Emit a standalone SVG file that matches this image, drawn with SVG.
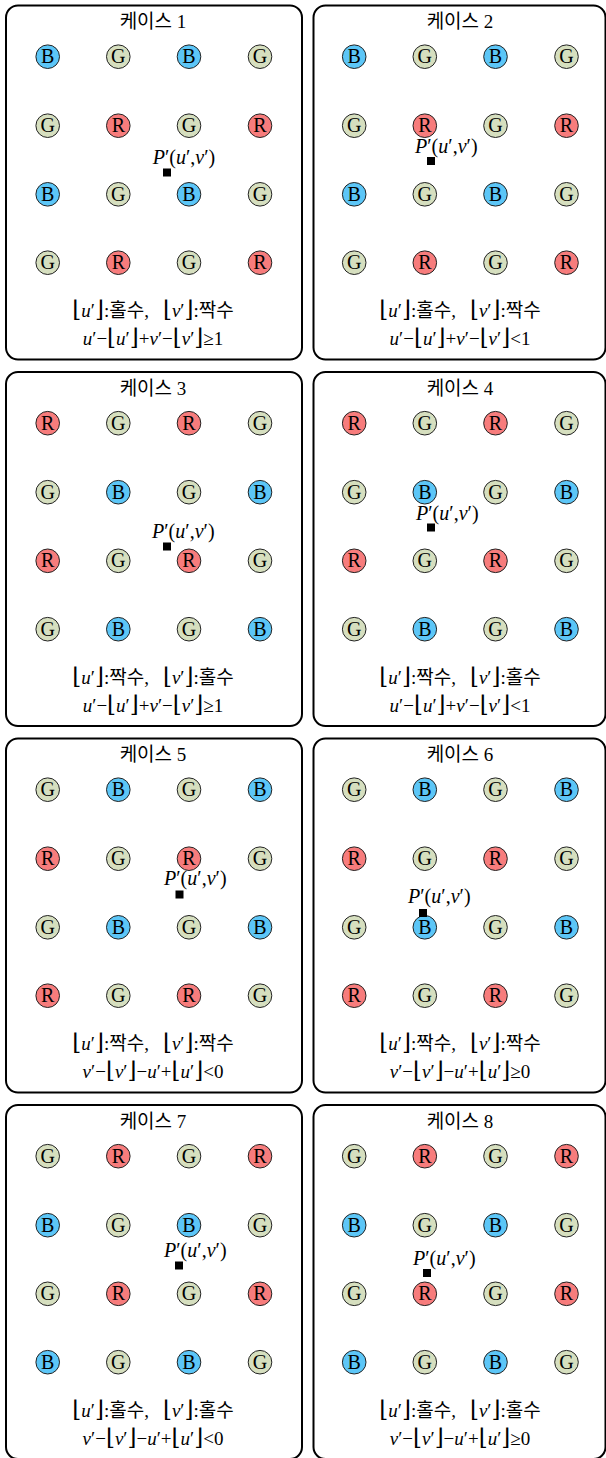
<svg xmlns="http://www.w3.org/2000/svg" xmlns:xlink="http://www.w3.org/1999/xlink" width="606" height="1458" viewBox="0 0 606 1458">
<style>
.box{fill:#fff;stroke:#000;stroke-width:2}
.b{fill:#5cc6f7;stroke:#222;stroke-width:1}
.g{fill:#d6dfbf;stroke:#222;stroke-width:1}
.r{fill:#f77c7c;stroke:#222;stroke-width:1}
.lt{font-family:"Liberation Serif","DejaVu Serif",serif;font-size:20px;text-anchor:middle;fill:#000}
.tt{font-family:"Liberation Serif","Noto Sans CJK KR",serif;font-size:19px;text-anchor:middle;fill:#000}
.t{font-family:"Liberation Serif","Noto Sans CJK KR",serif;font-size:19px;text-anchor:middle;fill:#000}
.k{font-weight:300}
.p{font-family:"Liberation Serif","DejaVu Serif",serif;font-size:20px;fill:#000}
.i{font-style:italic}
.br{font-family:"DejaVu Serif",serif;font-size:23px;font-weight:normal}
.sq{fill:#000}
</style>
<defs>
<g id="nB"><circle r="11.8" class="b"/><text class="lt" y="6.5">B</text></g>
<g id="nG"><circle r="11.8" class="g"/><text class="lt" y="6.5">G</text></g>
<g id="nR"><circle r="11.8" class="r"/><text class="lt" y="6.5">R</text></g>
<g id="rowBG"><use xlink:href="#nB" x="47.7"/><use xlink:href="#nG" x="118.3"/><use xlink:href="#nB" x="189"/><use xlink:href="#nG" x="260"/></g>
<g id="rowGR"><use xlink:href="#nG" x="47.7"/><use xlink:href="#nR" x="118.3"/><use xlink:href="#nG" x="189"/><use xlink:href="#nR" x="260"/></g>
<g id="rowRG"><use xlink:href="#nR" x="47.7"/><use xlink:href="#nG" x="118.3"/><use xlink:href="#nR" x="189"/><use xlink:href="#nG" x="260"/></g>
<g id="rowGB"><use xlink:href="#nG" x="47.7"/><use xlink:href="#nB" x="118.3"/><use xlink:href="#nG" x="189"/><use xlink:href="#nB" x="260"/></g>
</defs>

<g id="case1">
<rect class="box" x="6" y="5.5" width="296" height="354" rx="12"/>
<text class="tt" x="153" y="28">케이스 1</text>
<use xlink:href="#rowBG" y="56.7"/><use xlink:href="#rowGR" y="125.7"/><use xlink:href="#rowBG" y="194.3"/><use xlink:href="#rowGR" y="262.7"/>
<text class="p" x="152.7" y="164"><tspan class="i">P</tspan>′(<tspan class="i">u</tspan>′,<tspan class="i">v</tspan>′)</text>
<rect class="sq" x="163" y="168.5" width="8" height="8"/>
<text class="t" x="153" y="317"><tspan class="br">⌊</tspan><tspan class="i">u</tspan>′<tspan class="br">⌋</tspan>:홀수,<tspan class="br" dx="14">⌊</tspan><tspan class="i">v</tspan>′<tspan class="br">⌋</tspan>:짝수</text>
<text class="t" x="153" y="345"><tspan class="i">u</tspan>′−<tspan class="br">⌊</tspan><tspan class="i">u</tspan>′<tspan class="br">⌋</tspan>+<tspan class="i">v</tspan>′−<tspan class="br">⌊</tspan><tspan class="i">v</tspan>′<tspan class="br">⌋</tspan>≥1</text>
</g>

<g id="case2" transform="translate(306.5,0)">
<rect class="box" x="7" y="5.5" width="292" height="354" rx="12"/>
<text class="tt" x="153.5" y="28">케이스 2</text>
<use xlink:href="#rowBG" y="56.7"/><use xlink:href="#rowGR" y="125.7"/><use xlink:href="#rowBG" y="194.3"/><use xlink:href="#rowGR" y="262.7"/>
<text class="p" x="108.5" y="153"><tspan class="i">P</tspan>′(<tspan class="i">u</tspan>′,<tspan class="i">v</tspan>′)</text>
<rect class="sq" x="120.5" y="157" width="8" height="8"/>
<text class="t" x="153.5" y="317"><tspan class="br">⌊</tspan><tspan class="i">u</tspan>′<tspan class="br">⌋</tspan>:홀수,<tspan class="br" dx="14">⌊</tspan><tspan class="i">v</tspan>′<tspan class="br">⌋</tspan>:짝수</text>
<text class="t" x="153.5" y="345"><tspan class="i">u</tspan>′−<tspan class="br">⌊</tspan><tspan class="i">u</tspan>′<tspan class="br">⌋</tspan>+<tspan class="i">v</tspan>′−<tspan class="br">⌊</tspan><tspan class="i">v</tspan>′<tspan class="br">⌋</tspan>&lt;1</text>
</g>

<g id="case3" transform="translate(0,366.5)">
<rect class="box" x="6" y="5.5" width="296" height="354" rx="12"/>
<text class="tt" x="153" y="28">케이스 3</text>
<use xlink:href="#rowRG" y="56.7"/><use xlink:href="#rowGB" y="125.7"/><use xlink:href="#rowRG" y="194.3"/><use xlink:href="#rowGB" y="262.7"/>
<text class="p" x="152" y="171.5"><tspan class="i">P</tspan>′(<tspan class="i">u</tspan>′,<tspan class="i">v</tspan>′)</text>
<rect class="sq" x="163" y="176" width="8" height="8"/>
<text class="t" x="153" y="317"><tspan class="br">⌊</tspan><tspan class="i">u</tspan>′<tspan class="br">⌋</tspan>:짝수,<tspan class="br" dx="14">⌊</tspan><tspan class="i">v</tspan>′<tspan class="br">⌋</tspan>:홀수</text>
<text class="t" x="153" y="345"><tspan class="i">u</tspan>′−<tspan class="br">⌊</tspan><tspan class="i">u</tspan>′<tspan class="br">⌋</tspan>+<tspan class="i">v</tspan>′−<tspan class="br">⌊</tspan><tspan class="i">v</tspan>′<tspan class="br">⌋</tspan>≥1</text>
</g>

<g id="case4" transform="translate(306.5,366.5)">
<rect class="box" x="7" y="5.5" width="292" height="354" rx="12"/>
<text class="tt" x="153.5" y="28">케이스 4</text>
<use xlink:href="#rowRG" y="56.7"/><use xlink:href="#rowGB" y="125.7"/><use xlink:href="#rowRG" y="194.3"/><use xlink:href="#rowGB" y="262.7"/>
<text class="p" x="109.5" y="153.5"><tspan class="i">P</tspan>′(<tspan class="i">u</tspan>′,<tspan class="i">v</tspan>′)</text>
<rect class="sq" x="120.5" y="157" width="8" height="8"/>
<text class="t" x="153.5" y="317"><tspan class="br">⌊</tspan><tspan class="i">u</tspan>′<tspan class="br">⌋</tspan>:짝수,<tspan class="br" dx="14">⌊</tspan><tspan class="i">v</tspan>′<tspan class="br">⌋</tspan>:홀수</text>
<text class="t" x="153.5" y="345"><tspan class="i">u</tspan>′−<tspan class="br">⌊</tspan><tspan class="i">u</tspan>′<tspan class="br">⌋</tspan>+<tspan class="i">v</tspan>′−<tspan class="br">⌊</tspan><tspan class="i">v</tspan>′<tspan class="br">⌋</tspan>&lt;1</text>
</g>

<g id="case5" transform="translate(0,733)">
<rect class="box" x="6" y="5.5" width="296" height="354" rx="12"/>
<text class="tt" x="153" y="28">케이스 5</text>
<use xlink:href="#rowGB" y="56.7"/><use xlink:href="#rowRG" y="125.7"/><use xlink:href="#rowGB" y="194.3"/><use xlink:href="#rowRG" y="262.7"/>
<text class="p" x="164" y="152"><tspan class="i">P</tspan>′(<tspan class="i">u</tspan>′,<tspan class="i">v</tspan>′)</text>
<rect class="sq" x="175.5" y="157.5" width="8" height="8"/>
<text class="t" x="153" y="317"><tspan class="br">⌊</tspan><tspan class="i">u</tspan>′<tspan class="br">⌋</tspan>:짝수,<tspan class="br" dx="14">⌊</tspan><tspan class="i">v</tspan>′<tspan class="br">⌋</tspan>:짝수</text>
<text class="t" x="153" y="345"><tspan class="i">v</tspan>′−<tspan class="br">⌊</tspan><tspan class="i">v</tspan>′<tspan class="br">⌋</tspan>−<tspan class="i">u</tspan>′+<tspan class="br">⌊</tspan><tspan class="i">u</tspan>′<tspan class="br">⌋</tspan>&lt;0</text>
</g>

<g id="case6" transform="translate(306.5,733)">
<rect class="box" x="7" y="5.5" width="292" height="354" rx="12"/>
<text class="tt" x="153.5" y="28">케이스 6</text>
<use xlink:href="#rowGB" y="56.7"/><use xlink:href="#rowRG" y="125.7"/><use xlink:href="#rowGB" y="194.3"/><use xlink:href="#rowRG" y="262.7"/>
<text class="p" x="101.5" y="170"><tspan class="i">P</tspan>′(<tspan class="i">u</tspan>′,<tspan class="i">v</tspan>′)</text>
<rect class="sq" x="112.5" y="176" width="8" height="8"/>
<text class="t" x="153.5" y="317"><tspan class="br">⌊</tspan><tspan class="i">u</tspan>′<tspan class="br">⌋</tspan>:짝수,<tspan class="br" dx="14">⌊</tspan><tspan class="i">v</tspan>′<tspan class="br">⌋</tspan>:짝수</text>
<text class="t" x="153.5" y="345"><tspan class="i">v</tspan>′−<tspan class="br">⌊</tspan><tspan class="i">v</tspan>′<tspan class="br">⌋</tspan>−<tspan class="i">u</tspan>′+<tspan class="br">⌊</tspan><tspan class="i">u</tspan>′<tspan class="br">⌋</tspan>≥0</text>
</g>

<g id="case7" transform="translate(0,1099.5)">
<rect class="box" x="6" y="5.5" width="296" height="354" rx="12"/>
<text class="tt" x="153" y="28">케이스 7</text>
<use xlink:href="#rowGR" y="56.7"/><use xlink:href="#rowBG" y="125.7"/><use xlink:href="#rowGR" y="194.3"/><use xlink:href="#rowBG" y="262.7"/>
<text class="p" x="164" y="157.5"><tspan class="i">P</tspan>′(<tspan class="i">u</tspan>′,<tspan class="i">v</tspan>′)</text>
<rect class="sq" x="175" y="162" width="8" height="8"/>
<text class="t" x="153" y="317"><tspan class="br">⌊</tspan><tspan class="i">u</tspan>′<tspan class="br">⌋</tspan>:홀수,<tspan class="br" dx="14">⌊</tspan><tspan class="i">v</tspan>′<tspan class="br">⌋</tspan>:홀수</text>
<text class="t" x="153" y="345"><tspan class="i">v</tspan>′−<tspan class="br">⌊</tspan><tspan class="i">v</tspan>′<tspan class="br">⌋</tspan>−<tspan class="i">u</tspan>′+<tspan class="br">⌊</tspan><tspan class="i">u</tspan>′<tspan class="br">⌋</tspan>&lt;0</text>
</g>

<g id="case8" transform="translate(306.5,1099.5)">
<rect class="box" x="7" y="5.5" width="292" height="354" rx="12"/>
<text class="tt" x="153.5" y="28">케이스 8</text>
<use xlink:href="#rowGR" y="56.7"/><use xlink:href="#rowBG" y="125.7"/><use xlink:href="#rowGR" y="194.3"/><use xlink:href="#rowBG" y="262.7"/>
<text class="p" x="106.5" y="165.5"><tspan class="i">P</tspan>′(<tspan class="i">u</tspan>′,<tspan class="i">v</tspan>′)</text>
<rect class="sq" x="116.5" y="169.5" width="8" height="8"/>
<text class="t" x="153.5" y="317"><tspan class="br">⌊</tspan><tspan class="i">u</tspan>′<tspan class="br">⌋</tspan>:홀수,<tspan class="br" dx="14">⌊</tspan><tspan class="i">v</tspan>′<tspan class="br">⌋</tspan>:홀수</text>
<text class="t" x="153.5" y="345"><tspan class="i">v</tspan>′−<tspan class="br">⌊</tspan><tspan class="i">v</tspan>′<tspan class="br">⌋</tspan>−<tspan class="i">u</tspan>′+<tspan class="br">⌊</tspan><tspan class="i">u</tspan>′<tspan class="br">⌋</tspan>≥0</text>
</g>

<g id="connectors"></g>
</svg>
